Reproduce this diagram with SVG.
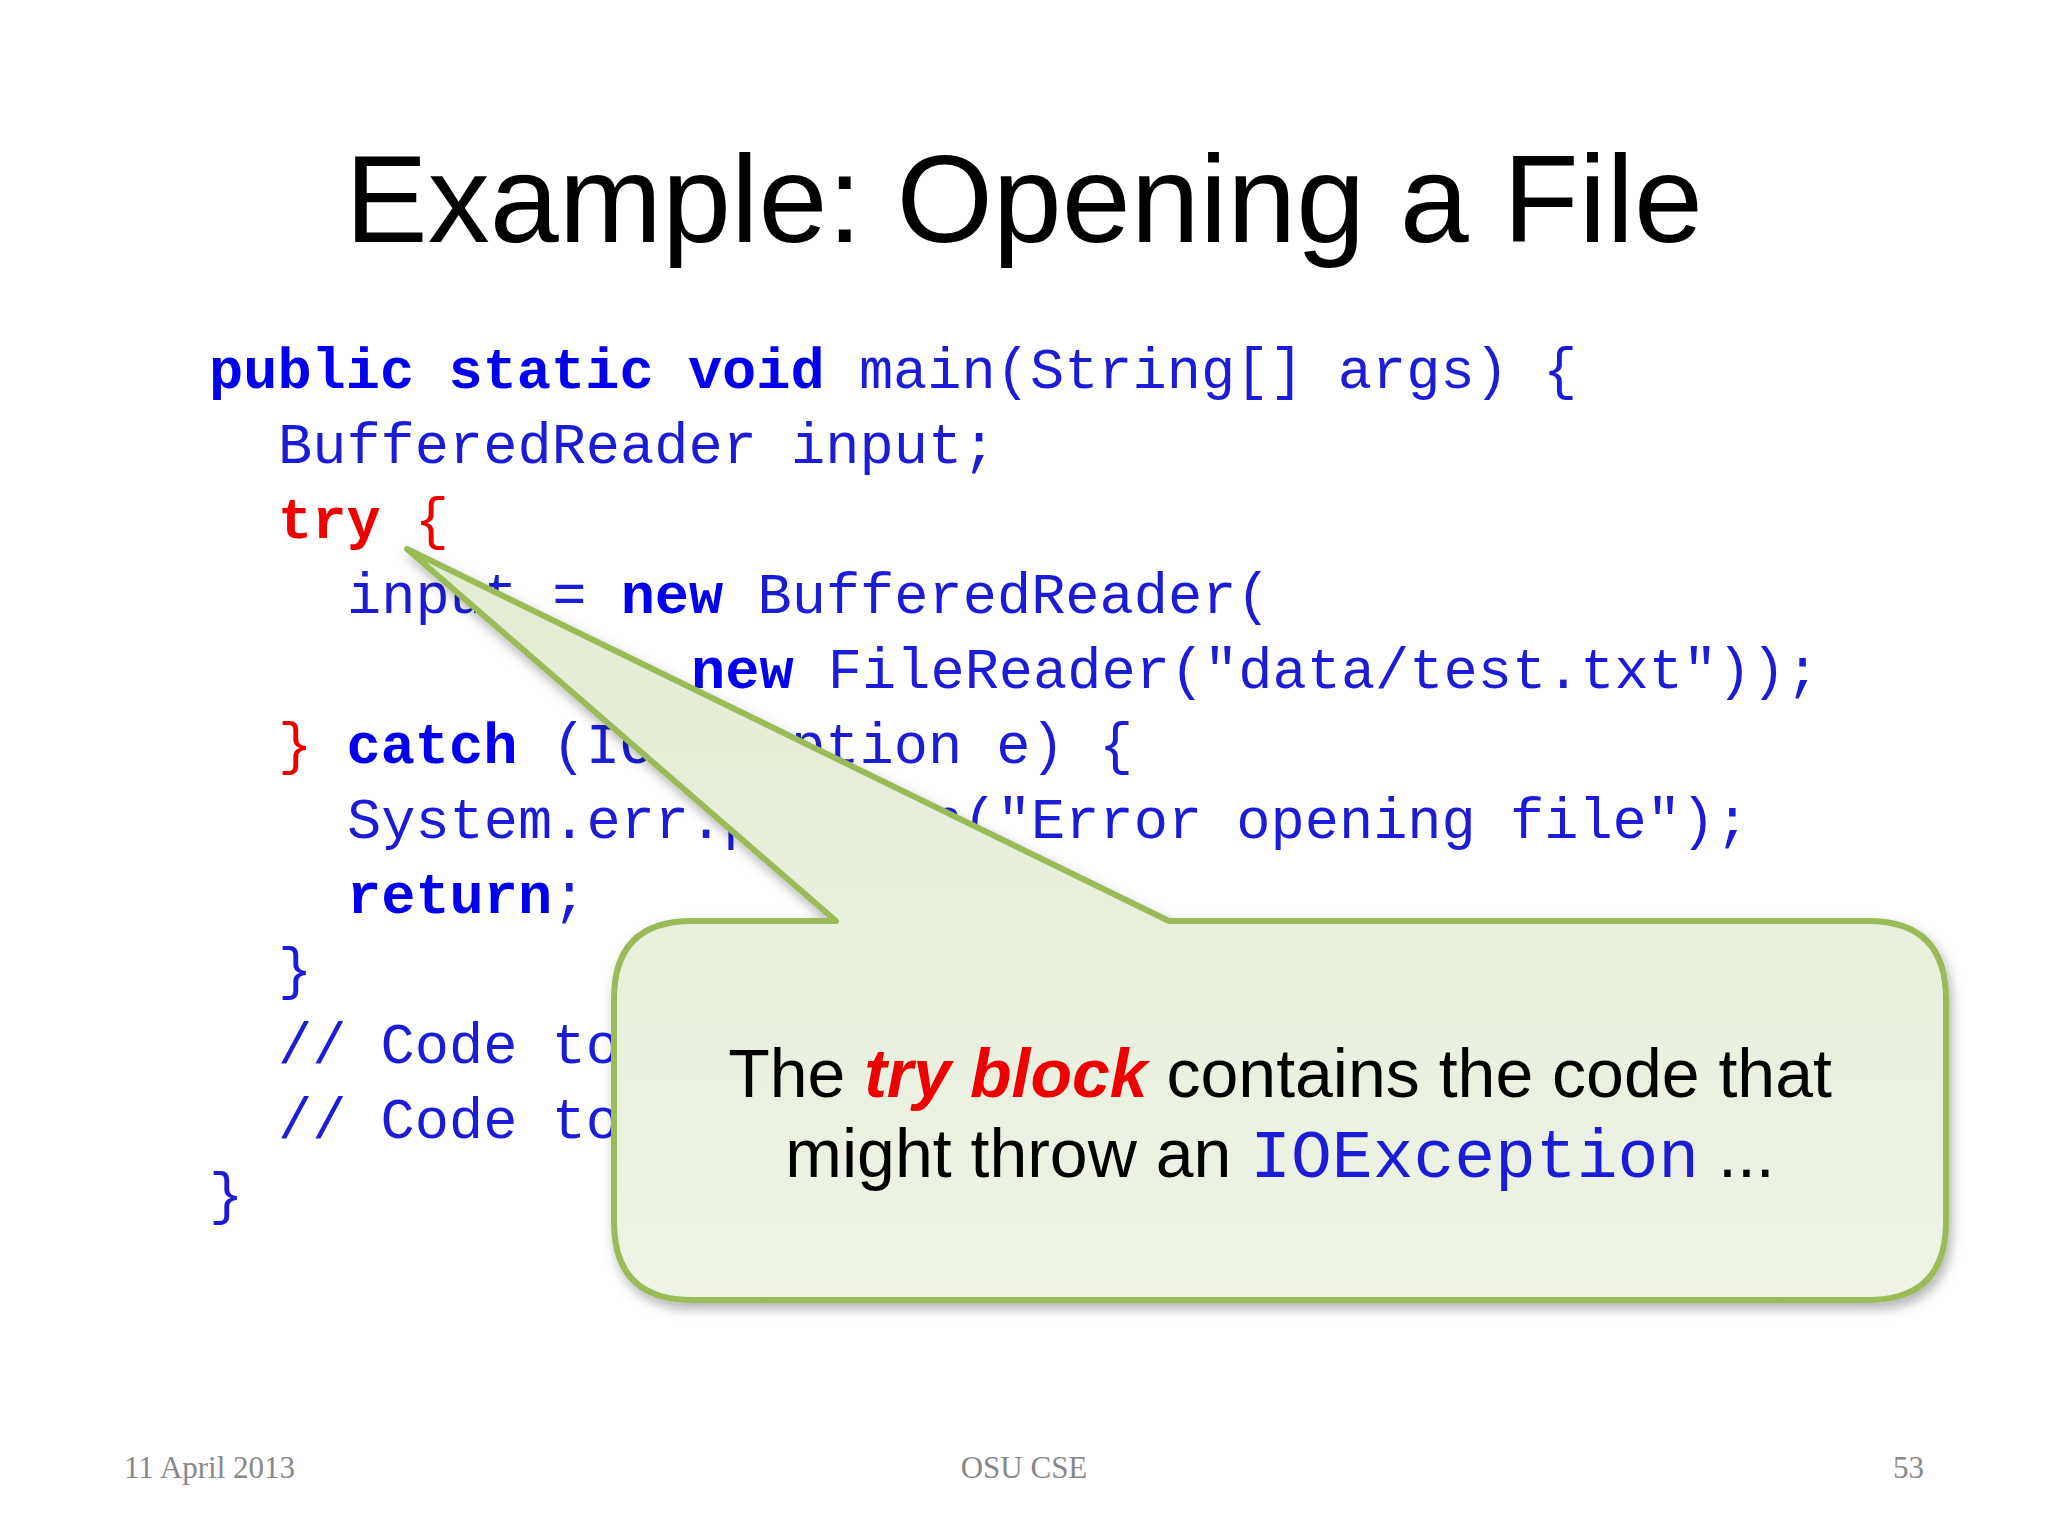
<svg xmlns="http://www.w3.org/2000/svg" width="2048" height="1536" viewBox="0 0 2048 1536">
<style>
.c{font-family:"Liberation Mono","Courier New",monospace;font-size:57px;fill:#1c1cd6}
.b{font-weight:bold;fill:#0000ee}
.r{fill:#ee0000}
.f{font-family:"Liberation Serif",serif;font-size:31px;fill:#888}
.s{font-family:"Liberation Sans",Arial,sans-serif}
</style>
<defs>
<linearGradient id="g" x1="0" y1="0" x2="0" y2="1"><stop offset="0" stop-color="#e3ecd3"/><stop offset="1" stop-color="#eef3e6"/></linearGradient>
<filter id="sh" x="-10%" y="-10%" width="120%" height="130%"><feDropShadow dx="3" dy="6" stdDeviation="6" flood-color="#000" flood-opacity="0.3"/></filter>
</defs>
<rect width="2048" height="1536" fill="#fff"/>
<text x="1024" y="242" text-anchor="middle" class="s" font-size="124">Example: Opening a File</text>
<g id="code" class="c">
<text x="209" y="388"><tspan class="b">public static void</tspan> main(String[] args) {</text>
<text x="278" y="463">BufferedReader input;</text>
<text x="278" y="538"><tspan class="b r">try</tspan> <tspan class="r">{</tspan></text>
<text x="347" y="613">input = <tspan class="b">new</tspan> BufferedReader(</text>
<text x="691" y="688"><tspan class="b">new</tspan> FileReader("data/test.txt"));</text>
<text x="278" y="763"><tspan class="r">}</tspan> <tspan class="b">catch</tspan> (IOException e) {</text>
<text x="347" y="838">System.err.println("Error opening file");</text>
<text x="347" y="913"><tspan class="b">return</tspan>;</text>
<text x="278" y="988">}</text>
<text x="278" y="1063">// Code to</text>
<text x="278" y="1138">// Code to</text>
<text x="209" y="1213">}</text>
</g>
<g id="callout">
<path d="M692 921 L836 921 L407 549 L1169 921 L1868 921 Q1946 921 1946 999 L1946 1222 Q1946 1300 1868 1300 L692 1300 Q614 1300 614 1222 L614 999 Q614 921 692 921 Z" fill="url(#g)" stroke="#9bbb59" stroke-width="6" stroke-linejoin="round" filter="url(#sh)"/>
<text x="1280" y="1097" text-anchor="middle" class="s" font-size="68">The <tspan fill="#ee0000" font-weight="bold" font-style="italic">try block</tspan> contains the code that</text>
<text x="1280" y="1177" text-anchor="middle" class="s" font-size="68">might throw an <tspan font-family="Liberation Mono,monospace" fill="#1c1cd6">IOException</tspan> ...</text>
</g>
<text x="124" y="1478" class="f">11 April 2013</text>
<text x="1024" y="1478" class="f" text-anchor="middle">OSU CSE</text>
<text x="1924" y="1478" class="f" text-anchor="end">53</text>
</svg>
